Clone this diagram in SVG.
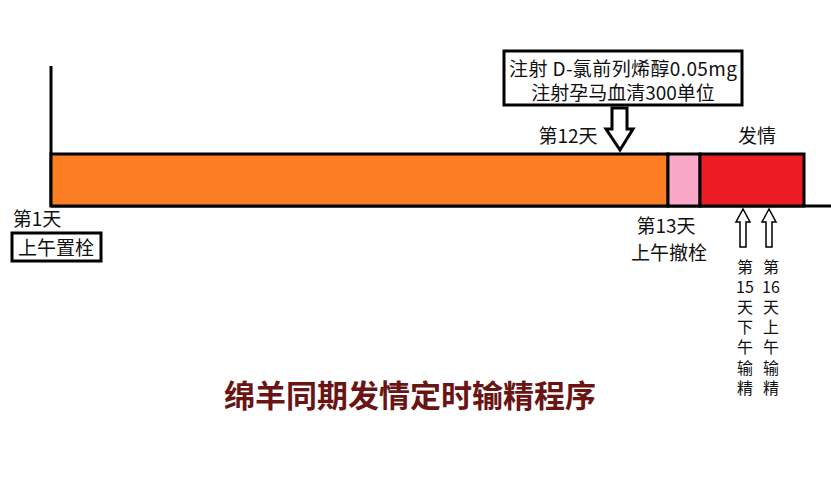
<svg xmlns="http://www.w3.org/2000/svg" width="831" height="480" viewBox="0 0 831 480">
<style>
text{font-family:"Noto Sans CJK SC","Liberation Sans",sans-serif;fill:#111}
.l{font-size:19px}
.v{font-size:16px;text-anchor:middle}
.box{fill:#fff;stroke:#000;stroke-width:3}
.seg{stroke:#000;stroke-width:3}
.arr{fill:#fff;stroke:#000;stroke-width:1.5}
</style>
<rect width="831" height="480" fill="#fff"/>
<g id="axis">
<line x1="51" y1="66" x2="51" y2="207" stroke="#000" stroke-width="3"/>
<line x1="51" y1="206" x2="831" y2="206" stroke="#000" stroke-width="3"/>
</g>
<g id="bar-orange"><rect class="seg" x="51" y="154" width="617" height="52" fill="#fb7e25"/></g>
<g id="bar-pink"><rect class="seg" x="668" y="154" width="32" height="52" fill="#f9a8c7"/></g>
<g id="bar-red"><rect class="seg" x="700" y="154" width="104" height="52" fill="#ec1c24"/>
<text class="l" x="757" y="143" text-anchor="middle">发情</text></g>
<g id="inject">
<rect class="box" x="504" y="51" width="238" height="54"/>
<text class="l" x="623" y="76" text-anchor="middle" textLength="228">注射 D-氯前列烯醇0.05mg</text>
<text class="l" x="623" y="100" text-anchor="middle">注射孕马血清300单位</text>
<text class="l" x="568" y="143" text-anchor="middle">第12天</text>
</g>
<g id="day1">
<text class="l" x="37" y="226" text-anchor="middle">第1天</text>
<rect class="box" x="12" y="233" width="89" height="28" stroke-width="2.5"/>
<text class="l" x="56" y="255" text-anchor="middle">上午置栓</text>
</g>
<g id="day13">
<text class="l" x="666" y="233" text-anchor="middle">第13天</text>
<text class="l" x="669" y="260" text-anchor="middle">上午撤栓</text>
</g>
<g id="ai15"><text class="v" x="745" y="273">第</text><text class="v" x="745" y="293">15</text><text class="v" x="745" y="313">天</text><text class="v" x="745" y="333">下</text><text class="v" x="745" y="353">午</text><text class="v" x="745" y="374">输</text><text class="v" x="745" y="394">精</text></g>
<g id="ai16"><text class="v" x="771" y="273">第</text><text class="v" x="771" y="293">16</text><text class="v" x="771" y="313">天</text><text class="v" x="771" y="333">上</text><text class="v" x="771" y="353">午</text><text class="v" x="771" y="374">输</text><text class="v" x="771" y="394">精</text></g>
<g id="connectors">
<path d="M612,108 H627 V129 H633 L620,150 L606,129 H612 Z" fill="#fff" stroke="#000" stroke-width="3"/>
<path class="arr" d="M740,247 V222 H736 L743,209 L750,222 H746 V247 Z"/>
<path class="arr" d="M766,247 V222 H762 L769,209 L776,222 H772 V247 Z"/>
</g>
<text x="410" y="407" text-anchor="middle" style="font-size:31px;font-weight:bold;fill:#6a1414">绵羊同期发情定时输精程序</text>
</svg>
